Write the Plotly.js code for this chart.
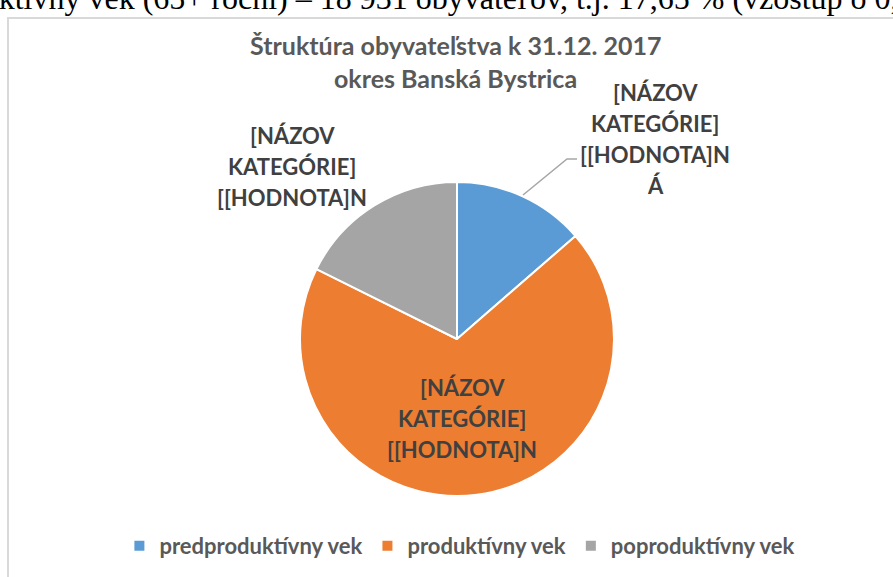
<!DOCTYPE html>
<html>
<head>
<meta charset="utf-8">
<script src="https://cdn.plot.ly/plotly-3.0.1.min.js"></script>
<style>html,body{margin:0;padding:0;background:#fff;overflow:hidden}#chart{width:893px;height:577px}</style>
</head>
<body>
<div id="chart"></div>
<script>
// ---- data ----
const categories = ["predproduktívny vek", "produktívny vek", "poproduktívny vek"];
const values = [14600, 73730, 18931];
const colors = ["#5B9BD5", "#ED7D31", "#A5A5A5"];
const titleLines = ["Štruktúra obyvateľstva k 31.12. 2017", "okres Banská Bystrica"];
const labelLinesBlue = ["[NÁZOV", "KATEGÓRIE]", "[[HODNOTA]N", "Á"];
const labelLinesOther = ["[NÁZOV", "KATEGÓRIE]", "[[HODNOTA]N"];
const topText = "poproduktívny vek (65+ roční) – 18 931 obyvateľov, t.j. 17,65 % (vzostup o 0,";

// ---- layout helpers ----
const W = 893, H = 577;
const px = x => x / W;
const py = y => (H - y) / H;

const cx = 457, cy = 339, r = 157;
const FONT = "Lato, 'Open Sans', sans-serif";

const annotations = [];
// top cut-off body text
annotations.push({
  xref: "paper", yref: "paper", x: px(-110), y: py(18), xanchor: "left", yanchor: "bottom",
  text: topText, showarrow: false,
  font: {family: "'Liberation Serif', 'Times New Roman', serif", size: 32, color: "#000"}
});
// title
titleLines.forEach((t, i) => annotations.push({
  xref: "paper", yref: "paper", x: px(456), y: py(45 + i * 33), xanchor: "center", yanchor: "middle",
  text: "<b>" + t + "</b>", showarrow: false,
  font: {family: FONT, size: 25, color: "#595959"}
}));
function addLabel(lines, x0, y0) {
  lines.forEach((t, i) => annotations.push({
    xref: "paper", yref: "paper", x: px(x0), y: py(y0 + i * 31), xanchor: "center", yanchor: "middle",
    text: "<b>" + t + "</b>", showarrow: false,
    font: {family: FONT, size: 22, color: "#404040"}
  }));
}
addLabel(labelLinesBlue, 655, 93);
addLabel(labelLinesOther, 292, 135);
addLabel(labelLinesOther, 462, 387);

const data = [{
  type: "pie",
  labels: categories,
  values: values,
  sort: false,
  direction: "clockwise",
  rotation: 0,
  textinfo: "none",
  hoverinfo: "label+value+percent",
  marker: {colors: colors, line: {color: "#ffffff", width: 2}},
  domain: {x: [px(cx - r), px(cx + r)], y: [py(cy + r), py(cy - r)]}
}];

const layout = {
  width: W, height: H,
  margin: {l: 0, r: 0, t: 0, b: 0},
  paper_bgcolor: "#ffffff",
  showlegend: true,
  legend: {
    orientation: "h", x: 0.515, xanchor: "center", y: py(546), yanchor: "middle",
    font: {family: FONT, size: 22, color: "#595959", weight: "bold"},
    traceorder: "normal", itemclick: false
  },
  shapes: [
    {type: "rect", xref: "paper", yref: "paper", x0: px(8), x1: px(900), y0: py(590), y1: py(18),
     line: {color: "#D9D9D9", width: 2}, fillcolor: "rgba(0,0,0,0)"},
    {type: "path", xref: "paper", yref: "paper",
     path: `M ${px(523)} ${py(195)} L ${px(567)} ${py(159)} L ${px(577)} ${py(159)}`,
     line: {color: "#A6A6A6", width: 1.5}}
  ],
  annotations: annotations
};

Plotly.newPlot("chart", data, layout, {displayModeBar: false, staticPlot: true});
</script>
</body>
</html>
